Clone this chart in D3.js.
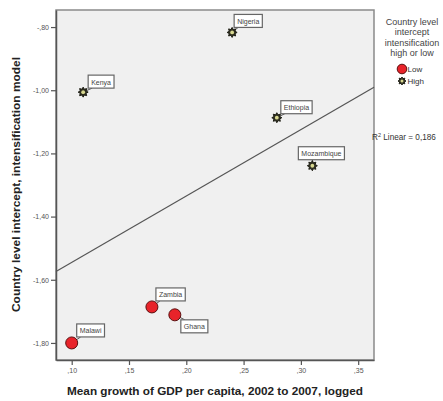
<!DOCTYPE html>
<html><head><meta charset="utf-8">
<script src="https://cdn.jsdelivr.net/npm/d3@7"></script>
<style>
html,body{margin:0;padding:0;background:#fff;}
svg{display:block;font-family:"Liberation Sans",Arial,sans-serif;}
</style></head>
<body>
<svg id="chart" width="443" height="401"></svg>
<script>
// ---- data ----
const countries = ["Nigeria","Kenya","Ethiopia","Mozambique","Zambia","Ghana","Malawi"];
const gdpGrowth = [0.240, 0.110, 0.279, 0.310, 0.170, 0.190, 0.100];
const intercept = [-0.817, -1.006, -1.087, -1.239, -1.686, -1.711, -1.800];
const group = ["High","High","High","High","Low","Low","Low"];
const xTicks = [0.10, 0.15, 0.20, 0.25, 0.30, 0.35];
const yTicks = [-0.80, -1.00, -1.20, -1.40, -1.60, -1.80];
const legendGroups = ["Low","High"];
const legendTitle = ["Country level","intercept","intensification","high or low"];

// label placement (layout only): box offset from point
const labelOffset = {
  Nigeria:[2,-18], Kenya:[5,-17], Ethiopia:[4,-17], Mozambique:[-14,-19],
  Zambia:[4,-19], Ghana:[6,5], Malawi:[5,-19]
};

const svg = d3.select("#chart");
const L=56, R=374, T=10, B=360;
const x = d3.scaleLinear().domain([0.0863, 0.3638]).range([L, R]);
const y = d3.scaleLinear().domain([-1.854, -0.746]).range([B, T]);

const fmt = v => {
  let s = v.toFixed(2);
  s = s.replace(/^(-?)0\./, "$1.");
  return s.replace(".", ",");
};

// plot background
svg.append("rect").attr("x",L).attr("y",T).attr("width",R-L).attr("height",B-T)
  .attr("fill","#f0f0f0").attr("stroke","#8a8a8a").attr("stroke-width",1.5);

// axes
const xAxis = d3.axisBottom(x).tickValues(xTicks).tickFormat(fmt).tickSizeOuter(0).tickSizeInner(5).tickPadding(3);
const yAxis = d3.axisLeft(y).tickValues(yTicks).tickFormat(fmt).tickSizeOuter(0).tickSizeInner(5).tickPadding(2);
const gx = svg.append("g").attr("transform",`translate(0,${B})`).call(xAxis);
const gy = svg.append("g").attr("transform",`translate(${L},0)`).call(yAxis);
[gx,gy].forEach(g=>{
  g.select(".domain").attr("stroke","#555").attr("stroke-width",1.5);
  g.selectAll(".tick line").attr("stroke","#555").attr("stroke-width",1.2);
  g.selectAll(".tick text").attr("fill","#555").style("font-size","7px").style("font-family","'Liberation Sans',Arial,sans-serif");
});

// regression line (least squares fit of the data)
const mx = d3.mean(gdpGrowth), my = d3.mean(intercept);
let sxy=0, sxx=0, syy=0;
gdpGrowth.forEach((v,i)=>{ sxy+=(v-mx)*(intercept[i]-my); sxx+=(v-mx)**2; syy+=(intercept[i]-my)**2; });
const slope = sxy/sxx, icpt = my - slope*mx;
const r2 = (sxy*sxy)/(sxx*syy);
const [x0,x1] = x.domain();
svg.append("line")
  .attr("x1",x(x0)).attr("y1",y(icpt+slope*x0))
  .attr("x2",x(x1)).attr("y2",y(icpt+slope*x1))
  .attr("stroke","#555").attr("stroke-width",1.2);

// R2 label
const r2t = svg.append("text").attr("x",372).attr("y",140).attr("fill","#333").style("font-size","8.2px");
r2t.append("tspan").text("R");
r2t.append("tspan").attr("dy",-3.5).style("font-size","5.5px").text("2");
r2t.append("tspan").attr("dy",3.5).text(" Linear = " + r2.toFixed(3).replace(".", ","));

// star path
function starPath(cx, cy, ro, ri, n){
  const pts=[];
  for(let k=0;k<2*n;k++){
    const r = k%2===0?ro:ri, a = Math.PI*k/n - Math.PI/2;
    pts.push([cx+r*Math.cos(a), cy+r*Math.sin(a)]);
  }
  return "M"+pts.map(p=>p.join(",")).join("L")+"Z";
}
function drawMarker(g, g2, cx, cy, s){
  if(g2==="Low"){
    g.append("circle").attr("cx",cx).attr("cy",cy).attr("r",6*s)
      .attr("fill","#e8232a").attr("stroke","#5a1010").attr("stroke-width",1);
  } else {
    g.append("path").attr("d",starPath(cx,cy,5*s,3.1*s,8))
      .attr("fill","#2e2e20").attr("stroke","#1e1e14").attr("stroke-width",1);
    g.append("circle").attr("cx",cx).attr("cy",cy).attr("r",1.9*s)
      .attr("fill","#d8d890");
  }
}

// labels and points
const pts = svg.append("g");
countries.forEach((c,i)=>{
  const px = x(gdpGrowth[i]), py = y(intercept[i]);
  const [dx,dy] = labelOffset[c];
  const lg = svg.append("g");
  const t = lg.append("text").attr("x",px+dx+3).attr("y",py+dy+9.5)
    .attr("fill","#444").style("font-size","7px").text(c);
  const w = t.node().getComputedTextLength()+6, h=13;
  const bx = px+dx, by = py+dy;
  const lx = Math.max(bx, Math.min(px, bx+w)), ly = Math.max(by, Math.min(py, by+h));
  lg.insert("line","text").attr("x1",px).attr("y1",py).attr("x2",lx+(lx===bx?4:0)).attr("y2",ly)
    .attr("stroke","#555").attr("stroke-width",1);
  lg.insert("rect","text").attr("x",bx).attr("y",by).attr("width",w).attr("height",h)
    .attr("fill","#fff").attr("stroke","#666").attr("stroke-width",1.2);
  drawMarker(pts, group[i], px, py, 1);
});
pts.raise();

// axis titles
svg.append("text").attr("x",215).attr("y",395).attr("text-anchor","middle")
  .attr("fill","#222").style("font-size","11.5px").style("font-weight","bold")
  .attr("textLength",296).attr("lengthAdjust","spacingAndGlyphs")
  .text("Mean growth of GDP per capita, 2002 to 2007, logged");
svg.append("text").attr("transform",`translate(20,184.5) rotate(-90)`).attr("text-anchor","middle")
  .attr("fill","#222").style("font-size","11.5px").style("font-weight","bold")
  .attr("textLength",255).attr("lengthAdjust","spacingAndGlyphs")
  .text("Country level intercept, intensification model");

// legend
const lt = svg.append("text").attr("text-anchor","middle").attr("fill","#444").style("font-size","9px");
legendTitle.forEach((s,i)=>lt.append("tspan").attr("x",412).attr("y",25+i*10.4).text(s));
legendGroups.forEach((gname,i)=>{
  const cy = 69 + i*12;
  drawMarker(svg.append("g"), gname, 402, cy, 0.8);
  svg.append("text").attr("x",407.5).attr("y",cy+2.8).attr("fill","#333").style("font-size","8px").text(gname);
});
</script>
</body></html>
